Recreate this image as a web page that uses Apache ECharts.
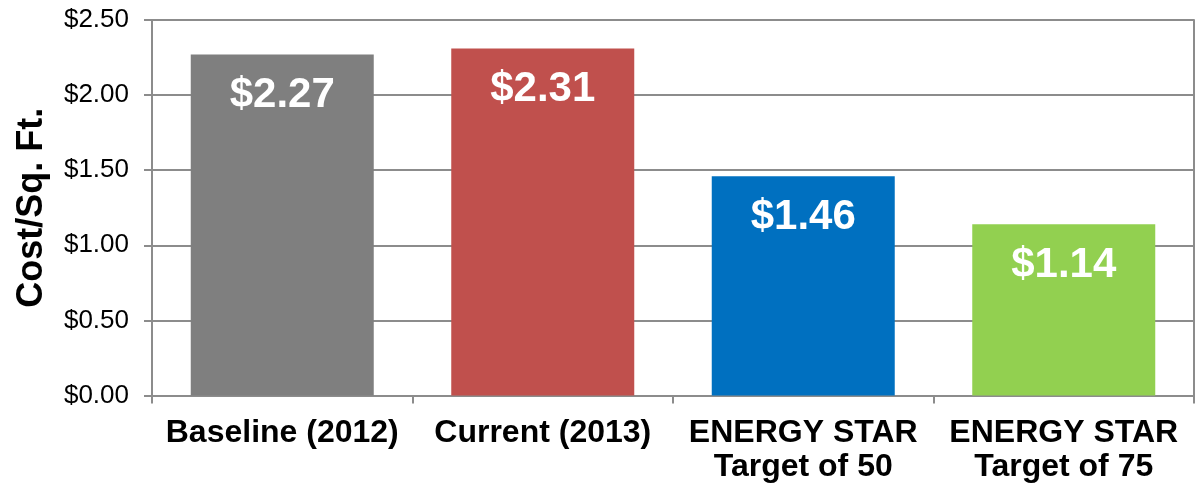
<!DOCTYPE html>
<html>
<head>
<meta charset="utf-8">
<script src="https://cdn.jsdelivr.net/npm/echarts@6/dist/echarts.min.js"></script>
<style>
html,body{margin:0;padding:0;background:#fff;}
#chart{width:1201px;height:486px;}
</style>
</head>
<body>
<div id="chart"></div>
<script>
const categories = ["Baseline (2012)", "Current (2013)", "ENERGY STAR\nTarget of 50", "ENERGY STAR\nTarget of 75"];
const values = [2.27, 2.31, 1.46, 1.14];
const barColors = ["#7F7F7F", "#C0504D", "#0070C0", "#92D050"];
const yTicks = [0, 0.5, 1.0, 1.5, 2.0, 2.5];

const FONT = "'Liberation Sans', Arial, sans-serif";
const chart = echarts.init(document.getElementById('chart'));
chart.setOption({
  animation: false,
  grid: { left: 152, right: 7, top: 20, bottom: 90.5, containLabel: false },
  xAxis: {
    type: 'category',
    data: categories,
    axisLine: { show: true, lineStyle: { color: '#8C8C8C', width: 2 } },
    axisTick: { show: true, length: 8, alignWithLabel: false, lineStyle: { color: '#8C8C8C', width: 2 } },
    axisLabel: {
      interval: 0, margin: 21, fontFamily: FONT, fontWeight: 'bold', fontSize: 32,
      lineHeight: 34, color: '#000'
    }
  },
  yAxis: [{
    type: 'value',
    min: yTicks[0], max: yTicks[yTicks.length - 1], interval: 0.5,
    name: 'Cost/Sq. Ft.',
    nameLocation: 'middle',
    nameGap: 102,
    nameRotate: 90,
    nameTextStyle: { fontFamily: FONT, fontWeight: 'bold', fontSize: 36, color: '#000' },
    axisLine: { show: true, lineStyle: { color: '#8C8C8C', width: 2 } },
    axisTick: { show: true, length: 8, inside: false, lineStyle: { color: '#8C8C8C', width: 2 } },
    axisLabel: {
      fontFamily: FONT, fontSize: 26, color: '#000', margin: 23,
      formatter: v => '$' + v.toFixed(2)
    },
    splitLine: { show: true, lineStyle: { color: '#8C8C8C', width: 2 } }
  }, {
    type: 'value', position: 'right',
    min: yTicks[0], max: yTicks[yTicks.length - 1], interval: 0.5,
    axisLine: { show: true, lineStyle: { color: '#8C8C8C', width: 2 } },
    axisTick: { show: false }, axisLabel: { show: false }, splitLine: { show: false }
  }],
  series: [{
    type: 'bar',
    yAxisIndex: 0,
    data: values.map((v, i) => ({ value: v, itemStyle: { color: barColors[i] } })),
    barWidth: 183,
    label: {
      show: true, position: 'insideTop', distance: 20,
      fontFamily: FONT, fontWeight: 'bold', fontSize: 42, lineHeight: 42, color: '#fff',
      formatter: p => '$' + p.value.toFixed(2)
    }
  }]
});
</script>
</body>
</html>
